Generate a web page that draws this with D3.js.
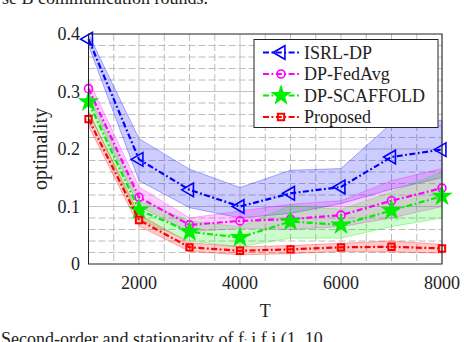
<!DOCTYPE html>
<html><head><meta charset="utf-8">
<script src="https://cdn.jsdelivr.net/npm/d3@7"></script>
<style>body{margin:0;background:#fff;}svg{display:block;}</style>
</head><body>
<script>
const T = [1000,2000,3000,4000,5000,6000,7000,8000];
const isrlMean = [0.391,0.182,0.129,0.100,0.123,0.134,0.186,0.199];
const isrlLo   = [0.380,0.145,0.098,0.080,0.088,0.105,0.130,0.150];
const isrlHi   = [0.400,0.218,0.165,0.133,0.163,0.166,0.245,0.250];
const fedMean  = [0.305,0.116,0.068,0.075,0.078,0.085,0.110,0.132];
const fedLo    = [0.290,0.100,0.056,0.062,0.060,0.065,0.080,0.100];
const fedHi    = [0.320,0.134,0.080,0.092,0.104,0.110,0.145,0.166];
const scafMean = [0.282,0.094,0.056,0.046,0.074,0.068,0.093,0.118];
const scafLo   = [0.265,0.078,0.040,0.030,0.045,0.045,0.065,0.080];
const scafHi   = [0.298,0.110,0.075,0.065,0.102,0.095,0.125,0.160];
const propMean = [0.252,0.0765,0.029,0.023,0.0255,0.029,0.030,0.027];
const propLo   = [0.240,0.066,0.022,0.016,0.018,0.022,0.021,0.019];
const propHi   = [0.265,0.086,0.037,0.030,0.032,0.036,0.040,0.034];
const seriesNames = ["ISRL-DP","DP-FedAvg","DP-SCAFFOLD","Proposed"];
const xTicks = [2000,4000,6000,8000];
const yTicks = [0,0.1,0.2,0.3,0.4];
const yTickLabels = ["0","0.1","0.2","0.3","0.4"];

const series = [
  {name:seriesNames[0], mean:isrlMean, lo:isrlLo, hi:isrlHi, color:"#0000ff", marker:"triL"},
  {name:seriesNames[1], mean:fedMean, lo:fedLo, hi:fedHi, color:"#ff00ff", marker:"circle"},
  {name:seriesNames[2], mean:scafMean, lo:scafLo, hi:scafHi, color:"#00ee00", marker:"star"},
  {name:seriesNames[3], mean:propMean, lo:propLo, hi:propHi, color:"#ff0000", marker:"square"}
];

const FONT = "'Liberation Serif', 'Times New Roman', Times, serif";
const W=464,H=342;
const L=88.5,R=442,Tp=34,B=264;
const svg=d3.select("body").append("svg").attr("width",W).attr("height",H)
  .attr("font-family",FONT);
const x=d3.scaleLinear().domain([1000,8000]).range([L,R]);
const y=d3.scaleLinear().domain([0,0.4]).range([B,Tp]);
function txt(sel){ return sel.append("text").attr("font-family",FONT).attr("fill","#222"); }

// surrounding caption fragments (cut by the picture edge, as in the reference)
txt(svg).attr("x",2).attr("y",3.5).attr("font-size",18).text("se B communication rounds.");
txt(svg).attr("x",1).attr("y",345).attr("font-size",18).text("Second-order and stationarity of f\u1d62 i f i (1, 10");

// grid
const g=svg.append("g");
const minorX=d3.range(1500,8000,500).filter(v=>v%2000!==0);
const minorY=d3.range(0.02,0.4,0.02).filter(v=>Math.abs(v*10-Math.round(v*10))>1e-6);
g.selectAll(".mx").data(minorX).enter().append("line")
 .attr("x1",d=>x(d)).attr("x2",d=>x(d)).attr("y1",Tp).attr("y2",B)
 .attr("stroke","#bcbcbc").attr("stroke-width",1).attr("stroke-dasharray","7,3");
g.selectAll(".my").data(minorY).enter().append("line")
 .attr("y1",d=>y(d)).attr("y2",d=>y(d)).attr("x1",L).attr("x2",R)
 .attr("stroke","#bcbcbc").attr("stroke-width",1).attr("stroke-dasharray","7,3");
g.selectAll(".Mx").data(xTicks).enter().append("line")
 .attr("x1",d=>x(d)).attr("x2",d=>x(d)).attr("y1",Tp).attr("y2",B)
 .attr("stroke","#c4c4c4").attr("stroke-width",1);
g.selectAll(".My").data([0.1,0.2,0.3]).enter().append("line")
 .attr("y1",d=>y(d)).attr("y2",d=>y(d)).attr("x1",L).attr("x2",R)
 .attr("stroke","#c4c4c4").attr("stroke-width",1);

// bands
const area=d3.area().x((d,i)=>x(T[i])).y0(d=>y(d[0])).y1(d=>y(d[1]));
series.forEach(s=>{
  const pts=T.map((t,i)=>[s.lo[i],s.hi[i]]);
  svg.append("path").datum(pts).attr("d",area)
    .attr("fill",s.color).attr("fill-opacity",0.2)
    .attr("stroke",s.color).attr("stroke-opacity",0.3).attr("stroke-width",1);
});

function markerPath(type){
  if(type==="triL") return d3.symbol().type(d3.symbolTriangle).size(80)();
  if(type==="circle") return d3.symbol().type(d3.symbolCircle).size(50)();
  if(type==="star") return d3.symbol().type(d3.symbolStar).size(85)();
  return d3.symbol().type(d3.symbolSquare).size(40)();
}
function drawMarker(sel,s,cx,cy){
  const p=sel.append("path").attr("d",markerPath(s.marker))
    .attr("transform",`translate(${cx},${cy})`+(s.marker==="triL"?" rotate(-90)":""))
    .attr("stroke",s.color).attr("stroke-width",s.marker==="square"?2:1.6);
  if(s.marker==="star") p.attr("fill",s.color); else p.attr("fill","none");
}

const line=d3.line().x((d,i)=>x(T[i])).y(d=>y(d));
series.forEach(s=>{
  svg.append("path").datum(s.mean).attr("d",line).attr("fill","none")
    .attr("stroke",s.color).attr("stroke-width",2.2)
    .attr("stroke-dasharray","6,2.5,1.8,2.5");
  s.mean.forEach((v,i)=>drawMarker(svg,s,x(T[i]),y(v)));
});

// axes box
svg.append("rect").attr("x",L).attr("y",Tp).attr("width",R-L).attr("height",B-Tp)
  .attr("fill","none").attr("stroke","#222").attr("stroke-width",1);
// ticks
xTicks.forEach(d=>txt(svg).attr("x",x(d)).attr("y",289).attr("text-anchor","middle").attr("font-size",18).text(d));
yTicks.forEach((d,i)=>txt(svg).attr("x",80).attr("y",y(d)+6).attr("text-anchor","end").attr("font-size",18).text(yTickLabels[i]));
txt(svg).attr("x",(L+R)/2).attr("y",317).attr("text-anchor","middle").attr("font-size",18).text("T");
txt(svg).attr("transform",`translate(47,${(Tp+B)/2}) rotate(-90)`)
  .attr("text-anchor","middle").attr("font-size",20).text("optimality");

// legend
const lg=svg.append("g");
lg.append("rect").attr("x",254).attr("y",39.5).attr("width",184).attr("height",88)
  .attr("fill","#fff").attr("stroke","#222").attr("stroke-width",1);
series.forEach((s,i)=>{
  const cy=52.5+i*21.5;
  lg.append("line").attr("x1",263).attr("x2",299).attr("y1",cy).attr("y2",cy)
    .attr("stroke",s.color).attr("stroke-width",2.2).attr("stroke-dasharray","6,2.5,1.8,2.5");
  drawMarker(lg,s,281,cy);
  txt(lg).attr("x",304).attr("y",cy+6).attr("font-size",18).text(s.name);
});
</script>
</body></html>
